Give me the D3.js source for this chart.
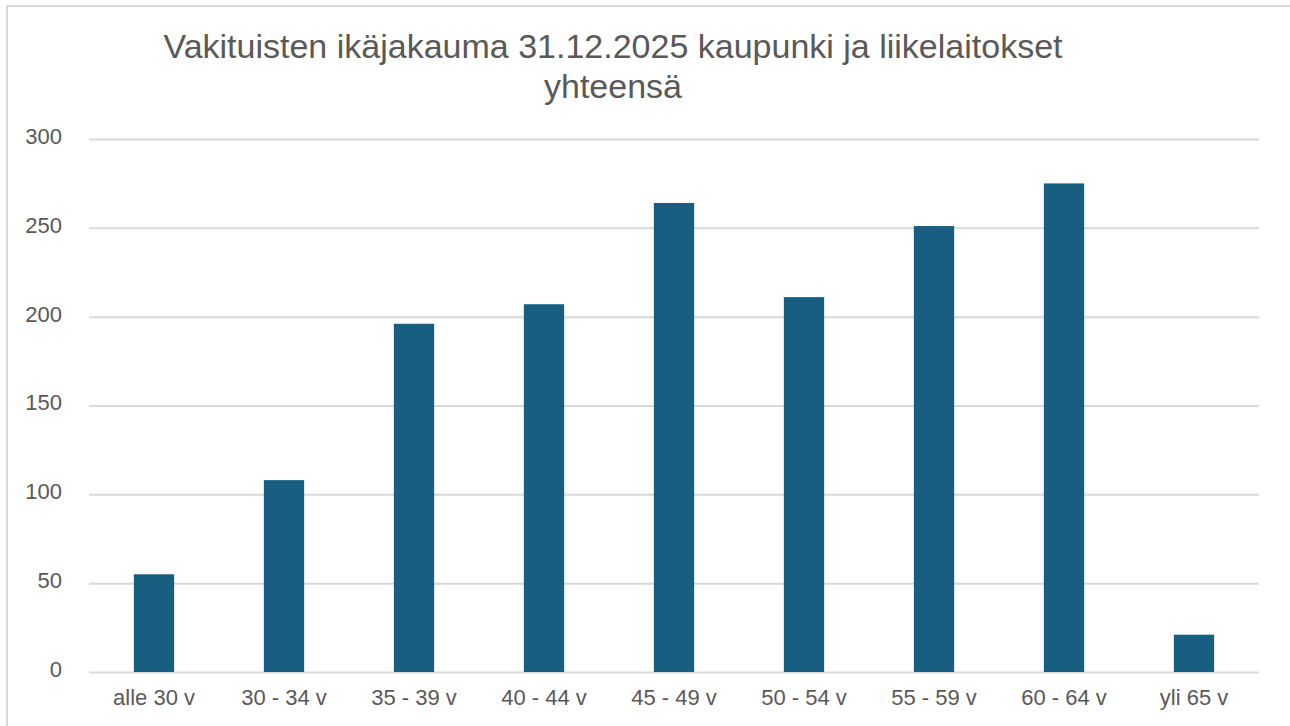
<!DOCTYPE html>
<html>

<head>
    <meta charset="utf-8">
    <script src="https://d3js.org/d3.v7.min.js"></script>
    <style>
        body {
            margin: 0;
            background: #fff;
        }

        text {
            font-family: "Liberation Sans", Arial, sans-serif;
            fill: #595959;
        }

        .gridlines .domain {
            display: none;
        }

        .gridlines line {
            stroke: #d9d9d9;
            stroke-width: 2px;
        }
    </style>
</head>

<body>
    <svg id="chart" width="1290" height="726"></svg>

    <script>
        // data
        const ageGroups = ["alle 30 v", "30 - 34 v", "35 - 39 v", "40 - 44 v", "45 - 49 v",
            "50 - 54 v", "55 - 59 v", "60 - 64 v", "yli 65 v"];
        const counts = [55, 108, 196, 207, 264, 211, 251, 275, 21];
        const yTicks = [0, 50, 100, 150, 200, 250, 300];
        const titleLines = ["Vakituisten ikäjakauma 31.12.2025 kaupunki ja liikelaitokset", "yhteensä"];

        const svg = d3.select("#chart");
        const margin = { top: 139, right: 31, bottom: 53, left: 89 };
        const width = +svg.attr("width");
        const height = +svg.attr("height");
        const chartWidth = width - margin.left - margin.right;
        const chartHeight = height - margin.top - margin.bottom - 1;

        // outer frame
        svg.append("rect")
            .attr("x", 7)
            .attr("y", 6)
            .attr("width", 1300)
            .attr("height", 800)
            .attr("fill", "none")
            .attr("stroke", "#d9d9d9")
            .attr("stroke-width", 2);

        const title = svg.append("text")
            .attr("text-anchor", "middle")
            .attr("font-size", 34);
        title.selectAll("tspan").data(titleLines)
            .join("tspan")
            .attr("x", 613)
            .attr("y", (d, i) => 58 + i * 40)
            .text(d => d);

        const chartArea = svg.append("g")
            .attr("transform", `translate(${margin.left},${margin.top})`);

        const xScale = d3.scaleBand().domain(ageGroups).range([0, chartWidth])
            .paddingInner(0.69)
            .paddingOuter(0.345);

        const yScale = d3.scaleLinear().domain([0, 300]).range([chartHeight, 0]);

        // gridlines
        const gridlines = d3.axisLeft(yScale)
            .tickValues(yTicks)
            .tickSize(-chartWidth)
            .tickFormat("");
        chartArea.append("g")
            .attr("class", "gridlines")
            .call(gridlines);

        // y tick labels
        const leftAxis = d3.axisLeft(yScale).tickValues(yTicks).tickSize(0).tickPadding(27);
        const yAxis = chartArea.append("g").call(leftAxis);
        yAxis.select(".domain").remove();
        yAxis.selectAll("text")
            .attr("font-size", 22)
            .style("font-family", "'Liberation Sans', Arial, sans-serif")
            .attr("fill", "#595959")
            .attr("dy", "0.2em");

        // x labels
        const bottomAxis = d3.axisBottom(xScale).tickSize(0).tickPadding(17);
        const xAxis = chartArea.append("g")
            .attr("transform", `translate(0,${chartHeight})`)
            .call(bottomAxis);
        xAxis.select(".domain").remove();
        xAxis.selectAll("text")
            .attr("font-size", 22)
            .style("font-family", "'Liberation Sans', Arial, sans-serif")
            .attr("fill", "#595959");

        // bars
        chartArea.selectAll("rect.bar").data(counts)
            .join("rect")
            .attr("class", "bar")
            .attr("fill", "#175e80")
            .attr("x", (d, i) => xScale(ageGroups[i]))
            .attr("y", d => yScale(d))
            .attr("width", xScale.bandwidth())
            .attr("height", d => yScale(0) - yScale(d));
    </script>
</body>

</html>
